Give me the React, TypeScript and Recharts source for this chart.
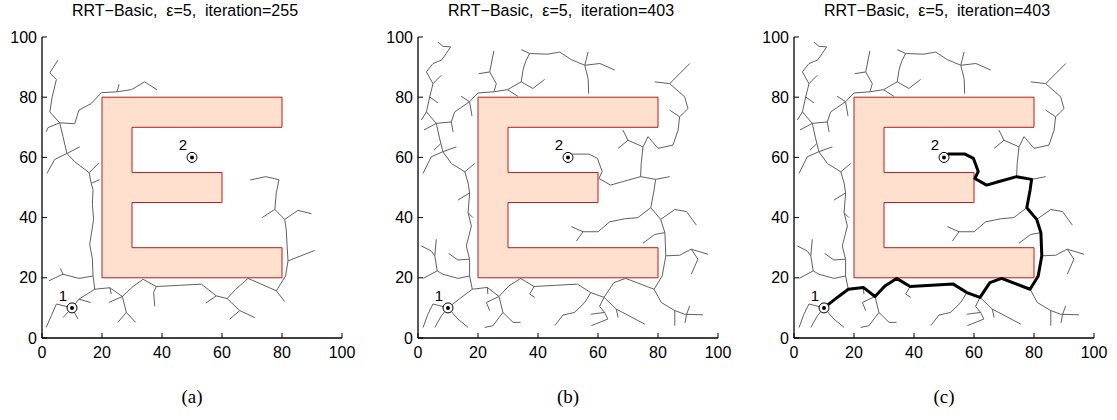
import { ComposedChart, Line, Scatter, XAxis, YAxis, ReferenceArea } from 'recharts';

type Pt = [number, number];

const TICKS = [0, 20, 40, 60, 80, 100];

// the E-shaped obstacle, as four filled bars plus its outline
const E_BARS = [
  { x1: 20, x2: 80, y1: 20, y2: 30 },
  { x1: 20, x2: 30, y1: 20, y2: 80 },
  { x1: 20, x2: 80, y1: 70, y2: 80 },
  { x1: 30, x2: 60, y1: 45, y2: 55 },
];
const E_OUTLINE: Pt[] = [
  [20, 20], [80, 20], [80, 30], [30, 30], [30, 45], [60, 45], [60, 55], [30, 55],
  [30, 70], [80, 70], [80, 80], [20, 80], [20, 20],
];

const ENDPOINTS = [
  { x: 10, y: 10, label: '1' },
  { x: 50, y: 60, label: '2' },
];

const TREE_A: Pt[][] = [
  [[10, 10], [12.3, 12.9], [17.6, 16.2], [17, 20.6], [16.8, 26.2], [15.9, 31.1], [17.2, 39.4], [16.8, 44.4], [17, 49.3], [16.4, 51.4], [15.7, 54.9], [10.9, 58.6], [8.3, 61.3], [7, 66.9], [5.9, 71.5], [2.6, 75.1], [3.4, 80.1], [4.8, 85.9], [2.6, 88.1], [5.3, 92.3]],
  [[5.9, 71.5], [10.9, 71.2], [12.3, 75.7], [16.4, 77.9], [19.8, 81.5], [25, 81.8], [29.8, 82.5], [34.2, 85.1], [38.3, 82.5]],
  [[25, 81.8], [25.7, 84.3]],
  [[5.9, 71.5], [2, 69.9], [1.4, 68.5]],
  [[8.3, 61.3], [4.2, 59.3], [1.7, 54.7]],
  [[8.3, 61.3], [12.6, 63.5]],
  [[15.7, 54.9], [19, 58.2]],
  [[16.4, 51.4], [19.2, 52.6]],
  [[17, 20.6], [12.3, 19.8], [7, 21.2], [6.1, 23.1]],
  [[7, 21.2], [2.3, 19]],
  [[17.6, 16.2], [22.6, 16.7], [26.8, 13.8], [28.1, 8.5], [25.3, 5.2]],
  [[28.1, 8.5], [31.2, 5.2]],
  [[22.6, 16.7], [23.1, 14.6]],
  [[26.8, 13.8], [22.3, 11.8]],
  [[26.8, 13.8], [30.3, 17.1], [33.7, 19.5], [38.1, 17.1], [45.9, 17.5], [53.1, 17.9], [58.1, 14], [61.7, 13.1], [65.9, 9.1], [70.9, 6.8]],
  [[38.1, 17.1], [37.2, 15.1], [37.6, 10.5]],
  [[65.9, 9.1], [62.6, 6.3]],
  [[58.1, 14], [54.6, 11.6]],
  [[61.7, 13.1], [64.6, 16.2], [68.7, 19.8], [78.1, 15.7], [80.9, 12.1]],
  [[78.1, 15.7], [81.2, 20.6], [82, 25.6], [81.4, 36.1], [80.9, 39.4], [77.6, 42.7], [78.1, 48.2], [79, 52.6], [74.6, 53.6], [69.4, 52.5]],
  [[82, 25.6], [90.9, 29.1]],
  [[80.9, 39.4], [85.3, 42.4], [89.8, 41.3]],
  [[77.6, 42.7], [73.4, 40]],
  [[10, 10], [4.8, 11.3], [3.1, 7.4], [1.4, 3.5]],
  [[10, 10], [7, 6.8]],
  [[10, 10], [12, 6.3]],
  [[12.3, 12.9], [16.2, 11.8]],
];

// path from 1 to 2 found at iteration 403 (bold in panel c)
const GOAL_PATH: Pt[] = [
  [10, 10], [13.7, 12.9], [18.1, 16.2], [23.1, 16.8], [27, 13.8], [30.3, 17.3], [34.2, 19.8], [38.7, 17.1],
  [45.9, 17.5], [53.1, 17.9], [57.6, 15.1], [62, 13.5], [65.3, 18.4], [69.2, 19.8], [78.7, 16.2], [81.4, 20.6],
  [82.6, 27.3], [82.3, 35], [80.9, 39.4], [77.6, 43.3], [78.7, 49.2], [79.2, 52.7], [74.2, 53.6], [68.1, 51.9],
  [64.2, 50.8], [60.3, 53], [61.4, 55.3], [59.8, 59.7], [57, 61.1], [51.4, 61.1], [50, 60],
];

const TREE_B: Pt[][] = [
  GOAL_PATH,
  [[18.1, 16.2], [17.2, 20.6], [17.2, 26.2], [16.1, 30.6], [17.8, 37.2], [16.7, 41.6], [17.2, 48.2], [16.7, 51.5], [15.6, 55.2], [11.1, 58], [8.3, 61.9], [7.2, 66.3], [6.1, 71.3], [2.8, 75.1], [3.9, 80.1], [5, 84.5], [2.8, 88.4], [5, 91.2], [7.8, 92.3], [9.4, 94.5], [10.9, 96.7], [8.3, 96.9], [6.7, 98.3]],
  [[5, 84.5], [7.8, 87.3]],
  [[3.9, 80.1], [6.7, 78.1]],
  [[2.8, 75.1], [1.1, 72.4]],
  [[6.1, 71.3], [2, 69.1]],
  [[6.1, 71.3], [11.1, 71.8], [12.2, 75.1], [17.2, 78.5], [20, 81.4], [25.3, 81.8], [29.8, 82.5], [34.4, 85.1], [38.3, 82.9], [42.2, 85.9]],
  [[11.1, 71.8], [11.7, 68.5]],
  [[17.2, 78.5], [18, 73.7]],
  [[17.2, 78.5], [14.4, 80.3]],
  [[25.3, 81.8], [26.1, 84.5], [23.9, 88.4], [25.3, 95.4]],
  [[23.9, 88.4], [20.2, 87.8]],
  [[29.8, 82.5], [33.3, 80.3]],
  [[34.4, 85.1], [35, 89], [35.8, 91.7], [37.2, 94.5], [43.3, 94.3], [47.2, 95], [51.1, 92.5], [55.6, 90.6], [60.6, 91.2], [65.6, 89]],
  [[37.2, 94.5], [34.4, 95.8]],
  [[55.6, 90.6], [56.7, 95]],
  [[55.6, 90.6], [56.7, 86.2], [56.9, 81.2]],
  [[7.5, 64.5], [5.3, 62.4]],
  [[8.3, 61.9], [4.4, 60.2], [1.7, 54.7]],
  [[8.3, 61.9], [12.8, 63.5]],
  [[15.6, 55.2], [18.9, 58]],
  [[17.2, 48.2], [13.3, 45.8]],
  [[16.7, 41.6], [18.3, 40]],
  [[17.2, 26.2], [13.3, 25.9], [10.2, 28.1]],
  [[17.2, 20.6], [13.3, 19.8], [8.3, 21.2], [6.4, 22.3], [5.6, 27.3], [6.1, 32.8]],
  [[5.6, 27.3], [4.4, 28.9], [1.1, 30.6]],
  [[6.4, 22.3], [1.7, 19.8]],
  [[23.1, 16.8], [23.3, 14.6]],
  [[27, 13.8], [28.3, 8.5], [25, 4.1], [22.2, 3.5]],
  [[27, 13.8], [22.8, 11.8], [23.9, 9.1]],
  [[28.3, 8.5], [31.7, 5.2], [34.2, 5.2]],
  [[38.7, 17.1], [37.2, 14.6], [38.9, 13.5]],
  [[62, 13.5], [66.1, 9.6], [75.6, 4.6]],
  [[66.1, 9.6], [66.7, 6.8]],
  [[62, 13.5], [60.5, 10.5], [62.2, 8.5], [57.6, 7.9]],
  [[62.2, 8.5], [63.3, 6.3], [57.8, 4.1]],
  [[57.6, 15.1], [55.6, 11.8], [52.2, 8.5], [48.3, 7.6], [45.6, 4.1]],
  [[78.7, 16.2], [81.1, 11.8], [85.6, 9.1], [88.9, 7.9], [95, 7.7]],
  [[85.6, 9.1], [85.6, 4.1]],
  [[90.6, 10.7], [89.5, 7.8], [89, 5]],
  [[82.6, 27.3], [87.2, 27.5], [91.1, 29.5], [96.7, 27.8]],
  [[91.1, 29.5], [93.3, 26.2], [91.1, 21.2]],
  [[80.9, 39.4], [85.6, 42.7], [89.5, 42], [92.8, 37.5]],
  [[77.6, 43.3], [73.3, 40], [68.9, 39.6], [63.9, 38.6], [60, 35.3], [55, 35.3], [51.1, 37]],
  [[55, 35.3], [52.8, 32.2]],
  [[82.3, 35], [78.9, 34.4], [75, 31.5]],
  [[79.2, 52.7], [83.9, 53.6]],
  [[74.2, 53.6], [74.4, 58], [75, 63.5], [76.7, 66.9], [80, 63], [85, 64.1], [86.7, 69.1], [87.2, 73.5], [90, 76.2], [88.9, 80.1], [83.9, 84.5], [78.9, 85.1]],
  [[83.9, 84.5], [90.6, 91.2]],
  [[87.2, 73.5], [83.9, 75.7]],
  [[75, 63.5], [70, 65.7], [68.3, 69.1]],
  [[70, 65.7], [66.7, 63]],
  [[10, 10], [5, 11.3], [3.3, 7.9], [1.7, 3.5]],
  [[10, 10], [7.8, 7.4], [5.6, 3.5]],
  [[10, 10], [13.3, 6.3], [16.7, 3.5]],
];

const PANELS = [
  { left: 42, iteration: 255, tree: TREE_A, path: null as Pt[] | null, tag: '(a)' },
  { left: 418, iteration: 403, tree: TREE_B, path: null as Pt[] | null, tag: '(b)' },
  { left: 794, iteration: 403, tree: TREE_B, path: GOAL_PATH, tag: '(c)' },
];

// polylines -> one row list, with a null y between branches so the line breaks
const toRows = (branches: Pt[][]) =>
  branches.flatMap((b) => [...b.map(([x, y]) => ({ x, y })), { x: b[b.length - 1][0], y: null }]);

const FONT = '"Liberation Sans", Arial, sans-serif';

const Marker = (props: any) => {
  const { cx, cy, payload } = props;
  return (
    <g>
      <circle cx={cx} cy={cy} r={5} fill="#fff" stroke="#000" strokeWidth={1} />
      <circle cx={cx} cy={cy} r={2} fill="#000" />
      <text x={cx - 9} y={cy - 7} textAnchor="middle" fontSize={15} fontFamily={FONT} fill="#000">
        {payload.label}
      </text>
    </g>
  );
};

const Panel = ({ left, iteration, tree, path, tag }: (typeof PANELS)[number]) => (
  <>
    <div
      style={{
        position: 'absolute', left: left - 7, top: 2, width: 300, textAlign: 'center',
        fontSize: 16, lineHeight: '18px', whiteSpace: 'pre', fontFamily: FONT,
      }}
    >
      {`RRT\u2212Basic,  \u03b5=5,  iteration=${iteration}`}
    </div>
    <div style={{ position: 'absolute', left: left - 40, top: 27 }}>
      <ComposedChart width={355} height={341} margin={{ top: 10, right: 15, bottom: 0, left: 0 }}>
        <XAxis
          type="number" dataKey="x" domain={[0, 100]} ticks={TICKS} interval={0} allowDataOverflow
          height={30} tickSize={-5} tickMargin={14} stroke="#000" axisLine={{ strokeWidth: 1.3 }}
          tick={{ fill: '#000', fontSize: 16, fontFamily: FONT }}
        />
        <XAxis
          xAxisId="top" orientation="top" type="number" dataKey="x" domain={[0, 100]} ticks={TICKS}
          interval={0} allowDataOverflow height={0} tickSize={-5} tick={false} stroke="#000"
          axisLine={{ strokeWidth: 1.3 }}
        />
        <YAxis
          type="number" dataKey="y" domain={[0, 100]} ticks={TICKS} interval={0} allowDataOverflow
          width={40} tickSize={-5} tickMargin={10} stroke="#000" axisLine={{ strokeWidth: 1.3 }}
          tick={{ fill: '#000', fontSize: 16, fontFamily: FONT }}
        />
        <YAxis
          yAxisId="right" orientation="right" type="number" dataKey="y" domain={[0, 100]} ticks={TICKS}
          interval={0} allowDataOverflow width={0} tickSize={-5} tick={false} stroke="#000"
          axisLine={{ strokeWidth: 1.3 }}
        />
        {E_BARS.map((b, i) => (
          <ReferenceArea key={i} x1={b.x1} x2={b.x2} y1={b.y1} y2={b.y2} fill="#FFDFCE" fillOpacity={1} stroke="none" />
        ))}
        <Line data={toRows([E_OUTLINE])} dataKey="y" stroke="#B01E1E" strokeWidth={1} dot={false} activeDot={false} isAnimationActive={false} />
        <Line data={toRows(tree)} dataKey="y" stroke="#606060" strokeWidth={1} dot={false} activeDot={false} isAnimationActive={false} />
        {path && (
          <Line data={toRows([path])} dataKey="y" stroke="#000" strokeWidth={3} strokeLinejoin="round" dot={false} activeDot={false} isAnimationActive={false} />
        )}
        <Scatter data={ENDPOINTS} dataKey="y" shape={Marker} isAnimationActive={false} />
      </ComposedChart>
    </div>
    <div
      style={{
        position: 'absolute', left, top: 386, width: 300, textAlign: 'center',
        fontSize: 19, lineHeight: '22px', fontFamily: '"Liberation Serif", serif',
      }}
    >
      {tag}
    </div>
  </>
);

export default function App() {
  return (
    <div style={{ position: 'absolute', left: 0, top: 0, width: 1117, height: 420, background: '#fff' }}>
      {PANELS.map((p) => (
        <Panel key={p.tag} {...p} />
      ))}
    </div>
  );
}
